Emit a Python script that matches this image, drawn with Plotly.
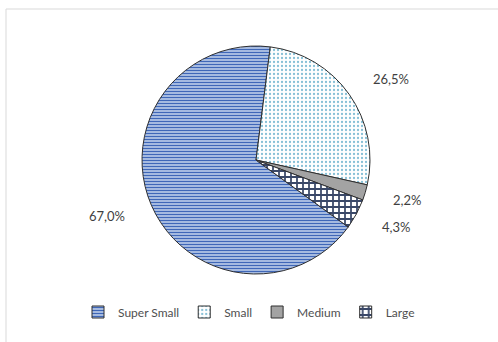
import math
import plotly.graph_objects as go

labels = ["Super Small", "Small", "Medium", "Large"]
values = [67.0, 26.5, 2.2, 4.3]
text_labels = ["67,0%", "26,5%", "2,2%", "4,3%"]

W, H = 498, 342
CX, CY, R = 256, 160, 114
ROT = 126  # start angle of first slice, clockwise from 12 o'clock

fig = go.Figure()
fig.add_trace(go.Pie(
    labels=labels,
    values=values,
    sort=False,
    direction="clockwise",
    rotation=ROT,
    textinfo="none",
    hoverinfo="label+percent",
    domain=dict(x=[(CX - R) / W, (CX + R) / W], y=[1 - (CY + R) / H, 1 - (CY - R) / H]),
    marker=dict(
        colors=["#D6E1F4", "#FFFFFF", "#A3A3A3", "#FFFFFF"],
        line=dict(color="#2F2F2F", width=1),
        pattern=dict(
            shape=["-", ".", "", "+"],
            fgcolor=["#3F67B8", "#86C0D6", "#A3A3A3", "#3A4868"],
            bgcolor=["#D6E1F4", "#FFFFFF", "#A3A3A3", "#FFFFFF"],
            size=[3, 4, 8, 6],
            solidity=[0.55, 0.25, 0.3, 0.5],
            fillmode="replace",
        ),
    ),
))

# data labels placed outside each slice, at mid-angle
total = sum(values)
start = ROT
D = 141
for v, t in zip(values, text_labels):
    span = 360 * v / total
    mid = math.radians(start + span / 2)
    start += span
    px = CX + D * math.sin(mid)
    py = CY - D * math.cos(mid)
    right = math.sin(mid) >= 0
    fig.add_annotation(
        x=px / W, y=1 - py / H, xref="paper", yref="paper",
        text=t, showarrow=False,
        xanchor="left" if right else "right", yanchor="middle",
        font=dict(family="Lato, Open Sans, sans-serif", size=13, color="#3F3F3F"),
    )

fig.add_shape(type="rect", xref="paper", yref="paper",
              x0=6 / W, x1=1.02, y0=-0.02, y1=1 - 9 / H,
              line=dict(color="#D9D9D9", width=1), fillcolor="rgba(0,0,0,0)", layer="below")

fig.update_layout(
    width=W, height=H,
    margin=dict(l=0, r=0, t=0, b=0),
    paper_bgcolor="white",
    plot_bgcolor="white",
    showlegend=True,
    legend=dict(
        orientation="h", x=0.5, xanchor="center", y=1 - 312 / H, yanchor="middle",
        font=dict(family="Lato, Open Sans, sans-serif", size=12, color="#4F4F4F"),
        itemwidth=30, traceorder="normal", bgcolor="rgba(0,0,0,0)",
    ),
)

fig.write_html("out.html")
